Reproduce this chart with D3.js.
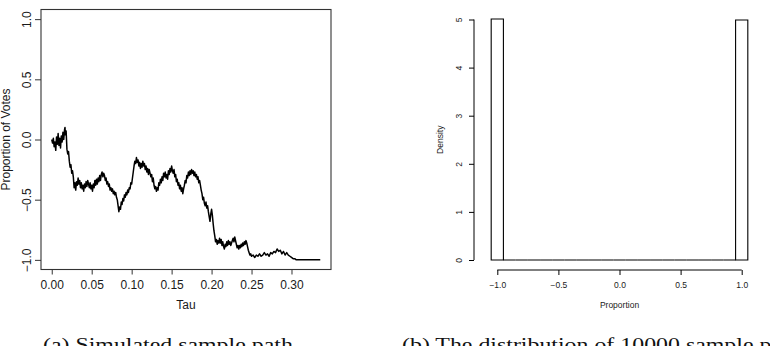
<!DOCTYPE html>
<html>
<head>
<meta charset="utf-8">
<script src="https://cdn.jsdelivr.net/npm/d3@7"></script>
<style>
  html, body { margin: 0; padding: 0; background: #fff; overflow: hidden; }
  svg { display: block; }
</style>
</head>
<body>
<svg id="fig" width="770" height="346"></svg>
<script>
// (a) simulated sample path as [tau, proportion]
const samplePath = [
  [0.000,0.00],[0.001,-0.03],[0.002,0.01],[0.003,-0.06],[0.004,-0.02],[0.005,-0.09],[0.006,0.02],[0.007,-0.04],
  [0.008,0.05],[0.009,-0.05],[0.010,0.01],[0.011,-0.07],[0.012,0.03],[0.013,-0.02],[0.014,0.06],[0.015,0.00],
  [0.016,0.08],[0.0166,0.10],[0.017,0.04],[0.018,0.07],[0.019,-0.08],[0.020,-0.12],[0.021,-0.10],[0.022,-0.18],
  [0.023,-0.23],[0.024,-0.21],[0.025,-0.28],[0.026,-0.26],[0.027,-0.31],[0.028,-0.40],[0.029,-0.36],[0.030,-0.42],
  [0.031,-0.35],[0.032,-0.38],[0.033,-0.32],[0.034,-0.37],[0.035,-0.34],[0.036,-0.40],[0.037,-0.36],[0.038,-0.41],
  [0.039,-0.38],[0.040,-0.43],[0.041,-0.37],[0.042,-0.40],[0.043,-0.35],[0.044,-0.39],[0.045,-0.34],[0.046,-0.37],
  [0.047,-0.40],[0.048,-0.36],[0.049,-0.41],[0.050,-0.38],[0.051,-0.43],[0.052,-0.37],[0.053,-0.40],[0.054,-0.34],
  [0.055,-0.38],[0.056,-0.33],[0.057,-0.37],[0.058,-0.32],[0.059,-0.35],[0.060,-0.30],[0.061,-0.34],[0.062,-0.29],
  [0.063,-0.27],[0.064,-0.31],[0.065,-0.28],[0.066,-0.30],[0.067,-0.34],[0.068,-0.32],[0.069,-0.37],[0.070,-0.35],
  [0.071,-0.39],[0.072,-0.37],[0.073,-0.42],[0.074,-0.40],[0.075,-0.43],[0.076,-0.41],[0.077,-0.45],[0.078,-0.43],
  [0.079,-0.46],[0.080,-0.44],[0.081,-0.48],[0.082,-0.50],[0.083,-0.55],[0.084,-0.60],[0.085,-0.56],[0.086,-0.58],
  [0.087,-0.52],[0.088,-0.54],[0.089,-0.49],[0.090,-0.51],[0.091,-0.46],[0.092,-0.48],[0.093,-0.44],[0.094,-0.46],
  [0.095,-0.42],[0.096,-0.44],[0.097,-0.40],[0.098,-0.41],[0.099,-0.36],[0.100,-0.37],[0.101,-0.32],[0.102,-0.27],
  [0.103,-0.22],[0.104,-0.18],[0.105,-0.20],[0.106,-0.15],[0.107,-0.19],[0.108,-0.17],[0.109,-0.22],[0.110,-0.19],
  [0.111,-0.24],[0.112,-0.20],[0.113,-0.23],[0.114,-0.18],[0.115,-0.22],[0.116,-0.20],[0.117,-0.25],[0.118,-0.22],
  [0.119,-0.27],[0.120,-0.24],[0.121,-0.29],[0.122,-0.25],[0.123,-0.28],[0.124,-0.31],[0.125,-0.29],[0.126,-0.35],
  [0.127,-0.32],[0.128,-0.38],[0.129,-0.41],[0.130,-0.39],[0.131,-0.43],[0.132,-0.40],[0.133,-0.42],[0.134,-0.36],
  [0.135,-0.38],[0.136,-0.33],[0.137,-0.36],[0.138,-0.31],[0.139,-0.34],[0.140,-0.28],[0.141,-0.31],[0.142,-0.27],
  [0.143,-0.32],[0.144,-0.29],[0.145,-0.33],[0.146,-0.26],[0.147,-0.29],[0.148,-0.24],[0.149,-0.27],[0.150,-0.22],
  [0.151,-0.26],[0.152,-0.28],[0.153,-0.25],[0.154,-0.31],[0.155,-0.29],[0.156,-0.35],[0.157,-0.33],[0.158,-0.38],
  [0.159,-0.36],[0.160,-0.41],[0.161,-0.38],[0.162,-0.43],[0.163,-0.40],[0.164,-0.45],[0.165,-0.41],[0.166,-0.38],
  [0.167,-0.34],[0.168,-0.36],[0.169,-0.30],[0.170,-0.32],[0.171,-0.27],[0.172,-0.30],[0.173,-0.26],[0.174,-0.29],
  [0.175,-0.25],[0.176,-0.28],[0.177,-0.26],[0.178,-0.30],[0.179,-0.27],[0.180,-0.31],[0.181,-0.29],[0.182,-0.33],
  [0.183,-0.31],[0.184,-0.36],[0.185,-0.34],[0.186,-0.38],[0.187,-0.42],[0.188,-0.45],[0.189,-0.50],[0.190,-0.48],
  [0.191,-0.53],[0.192,-0.55],[0.193,-0.52],[0.194,-0.57],[0.195,-0.55],[0.196,-0.60],[0.197,-0.64],[0.198,-0.68],
  [0.199,-0.62],[0.200,-0.58],[0.201,-0.63],[0.202,-0.70],[0.203,-0.76],[0.204,-0.80],[0.205,-0.85],[0.206,-0.83],
  [0.207,-0.87],[0.208,-0.84],[0.209,-0.86],[0.210,-0.82],[0.211,-0.86],[0.212,-0.83],[0.213,-0.88],[0.214,-0.85],
  [0.215,-0.89],[0.216,-0.91],[0.217,-0.87],[0.218,-0.89],[0.219,-0.85],[0.220,-0.88],[0.221,-0.84],[0.222,-0.87],
  [0.223,-0.85],[0.224,-0.88],[0.225,-0.86],[0.226,-0.84],[0.227,-0.82],[0.228,-0.85],[0.229,-0.81],[0.230,-0.84],
  [0.231,-0.87],[0.232,-0.90],[0.233,-0.88],[0.234,-0.91],[0.235,-0.88],[0.236,-0.90],[0.237,-0.87],[0.238,-0.89],
  [0.239,-0.86],[0.240,-0.88],[0.241,-0.85],[0.242,-0.87],[0.243,-0.84],[0.244,-0.86],[0.245,-0.89],[0.246,-0.92],
  [0.247,-0.94],[0.248,-0.96],[0.249,-0.95],[0.250,-0.97],[0.252,-0.96],[0.254,-0.98],[0.256,-0.96],[0.258,-0.97],
  [0.260,-0.95],[0.262,-0.97],[0.264,-0.96],[0.266,-0.94],[0.268,-0.96],[0.270,-0.95],[0.272,-0.97],[0.274,-0.94],
  [0.276,-0.95],[0.278,-0.93],[0.280,-0.94],[0.282,-0.91],[0.284,-0.93],[0.286,-0.92],[0.288,-0.95],[0.290,-0.93],
  [0.292,-0.96],[0.294,-0.94],[0.296,-0.96],[0.298,-0.97],[0.300,-0.98],[0.302,-0.99],[0.304,-0.99],[0.306,-1.00],
  [0.336,-1.00]
];
const tauTicks = [0, 0.05, 0.10, 0.15, 0.20, 0.25, 0.30];
const tauTickLabels = ['0.00', '0.05', '0.10', '0.15', '0.20', '0.25', '0.30'];
const propTicks = [-1, -0.5, 0, 0.5, 1];
const propTickLabels = ['\u22121.0', '\u22120.5', '0.0', '0.5', '1.0'];

// (b) histogram of 10000 sample proportions (density per 0.1-wide bin)
const binEdges = [-1.05, -0.95, -0.85, -0.75, -0.65, -0.55, -0.45, -0.35, -0.25, -0.15, -0.05,
                  0.05, 0.15, 0.25, 0.35, 0.45, 0.55, 0.65, 0.75, 0.85, 0.95, 1.05];
const densities = [5.01, 0, 0, 0, 0, 0, 0, 0, 0, 0, 0, 0, 0, 0, 0, 0, 0, 0, 0, 0, 4.99];
const histXTicks = [-1, -0.5, 0, 0.5, 1];
const histXTickLabels = ['\u22121.0', '\u22120.5', '0.0', '0.5', '1.0'];
const histYTicks = [0, 1, 2, 3, 4, 5];
const histYTickLabels = ['0', '1', '2', '3', '4', '5'];

const captions = ['(a) Simulated sample path', '(b) The distribution of 10000 sample proportions'];

const svg = d3.select('#fig');
const sans = "'Liberation Sans', Arial, sans-serif";
const ink = '#1a1a1a';

// ---------- panel (a) ----------
const boxA = { left: 41, right: 331, top: 9.5, bottom: 269.5 };
const tauExt = d3.extent(samplePath, d => d[0]);
const tauPad = (tauExt[1] - tauExt[0]) * 0.04;
const xA = d3.scaleLinear().domain([tauExt[0] - tauPad, tauExt[1] + tauPad]).range([boxA.left, boxA.right]);
const yA = d3.scaleLinear().domain([-1.08, 1.08]).range([boxA.bottom, boxA.top]);

const gA = svg.append('g');

gA.append('path')
  .datum(samplePath)
  .attr('fill', 'none')
  .attr('stroke', '#000')
  .attr('stroke-width', 1.5)
  .attr('stroke-linejoin', 'round')
  .attr('d', d3.line().x(d => xA(d[0])).y(d => yA(d[1])));

gA.append('rect')
  .attr('x', boxA.left).attr('y', boxA.top)
  .attr('width', boxA.right - boxA.left).attr('height', boxA.bottom - boxA.top)
  .attr('fill', 'none').attr('stroke', '#333').attr('stroke-width', 1.1);

const axA_x = gA.append('g')
  .attr('transform', `translate(0,${boxA.bottom})`)
  .call(d3.axisBottom(xA).tickValues(tauTicks).tickSize(5).tickSizeOuter(0).tickPadding(8)
    .tickFormat((d, i) => tauTickLabels[i]));
axA_x.select('.domain').remove();
axA_x.selectAll('line').attr('stroke', '#333');
axA_x.selectAll('text').attr('font-family', sans).attr('font-size', 12).attr('fill', ink)
  .attr('y', 19).attr('dy', 0);

const axA_y = gA.append('g')
  .attr('transform', `translate(${boxA.left},0)`)
  .call(d3.axisLeft(yA).tickValues(propTicks).tickSize(6).tickSizeOuter(0)
    .tickFormat((d, i) => propTickLabels[i]));
axA_y.select('.domain').remove();
axA_y.selectAll('line').attr('stroke', '#333');
axA_y.selectAll('text').attr('font-family', sans).attr('font-size', 12).attr('fill', ink)
  .attr('text-anchor', 'middle').attr('transform', 'rotate(-90)')
  .attr('x', 0).attr('y', -10.5).attr('dy', 0);

gA.append('text')
  .attr('x', (boxA.left + boxA.right) / 2).attr('y', 308.5)
  .attr('text-anchor', 'middle').attr('font-family', sans).attr('font-size', 12).attr('fill', ink)
  .text('Tau');

gA.append('text')
  .attr('transform', `translate(10,${(boxA.top + boxA.bottom) / 2}) rotate(-90)`)
  .attr('text-anchor', 'middle').attr('font-family', sans).attr('font-size', 12).attr('fill', ink)
  .text('Proportion of Votes');

// ---------- panel (b) ----------
const xB = d3.scaleLinear().domain([-1, 1]).range([497.3, 741.7]);
const yB = d3.scaleLinear().domain([0, 5]).range([260, 19.5]);
const axisXB = 474;
const axisYB = 270;

const gB = svg.append('g');

const bins = densities.map((v, i) => ({ x0: binEdges[i], x1: binEdges[i + 1], density: v }));
gB.selectAll('path.bar')
  .data(bins)
  .join('path')
  .attr('class', 'bar')
  .attr('fill', '#fff')
  .attr('stroke', '#000')
  .attr('stroke-width', 1.1)
  .attr('d', d => {
    const x0 = xB(d.x0), x1 = xB(d.x1), y0 = yB(0), y1 = yB(d.density);
    return `M${x0},${y0}V${y1}H${x1}V${y0}Z`;
  });

const axB_x = gB.append('g')
  .attr('transform', `translate(0,${axisYB})`)
  .call(d3.axisBottom(xB).tickValues(histXTicks).tickSize(5).tickSizeOuter(0)
    .tickFormat((d, i) => histXTickLabels[i]));
axB_x.select('.domain')
  .attr('d', `M${xB(histXTicks[0])},0H${xB(histXTicks[histXTicks.length - 1])}`)
  .attr('stroke', '#000');
axB_x.selectAll('line').attr('stroke', '#000');
axB_x.selectAll('text').attr('font-family', sans).attr('font-size', 8.5).attr('fill', ink)
  .attr('y', 18.4).attr('dy', 0);

const axB_y = gB.append('g')
  .attr('transform', `translate(${axisXB},0)`)
  .call(d3.axisLeft(yB).tickValues(histYTicks).tickSize(5).tickSizeOuter(0)
    .tickFormat((d, i) => histYTickLabels[i]));
axB_y.select('.domain')
  .attr('d', `M0,${yB(histYTicks[0])}V${yB(histYTicks[histYTicks.length - 1])}`)
  .attr('stroke', '#000');
axB_y.selectAll('line').attr('stroke', '#000');
axB_y.selectAll('text').attr('font-family', sans).attr('font-size', 8.5).attr('fill', ink)
  .attr('text-anchor', 'middle').attr('transform', 'rotate(-90)')
  .attr('x', 0).attr('y', -12).attr('dy', 0);

gB.append('text')
  .attr('x', xB(0)).attr('y', 308)
  .attr('text-anchor', 'middle').attr('font-family', sans).attr('font-size', 8.5).attr('fill', ink)
  .text('Proportion');

gB.append('text')
  .attr('transform', `translate(442.5,${(yB(0) + yB(5)) / 2}) rotate(-90)`)
  .attr('text-anchor', 'middle').attr('font-family', sans).attr('font-size', 8.5).attr('fill', ink)
  .text('Density');

// ---------- sub-captions (cut by the bottom edge, as in the source) ----------
const capX = [43, 402];
const capEls = captions.map((c, i) => svg.append('text')
  .attr('x', 0).attr('y', 0)
  .attr('font-family', "'Liberation Serif', 'Times New Roman', serif")
  .attr('font-size', 19)
  .attr('fill', '#111')
  .text(c));
const naturalW = capEls[0].node().getComputedTextLength();
const sx = 250 / naturalW;
capEls.forEach((el, i) => el.attr('transform', `translate(${capX[i]},351) scale(${sx},1)`));
</script>
</body>
</html>
